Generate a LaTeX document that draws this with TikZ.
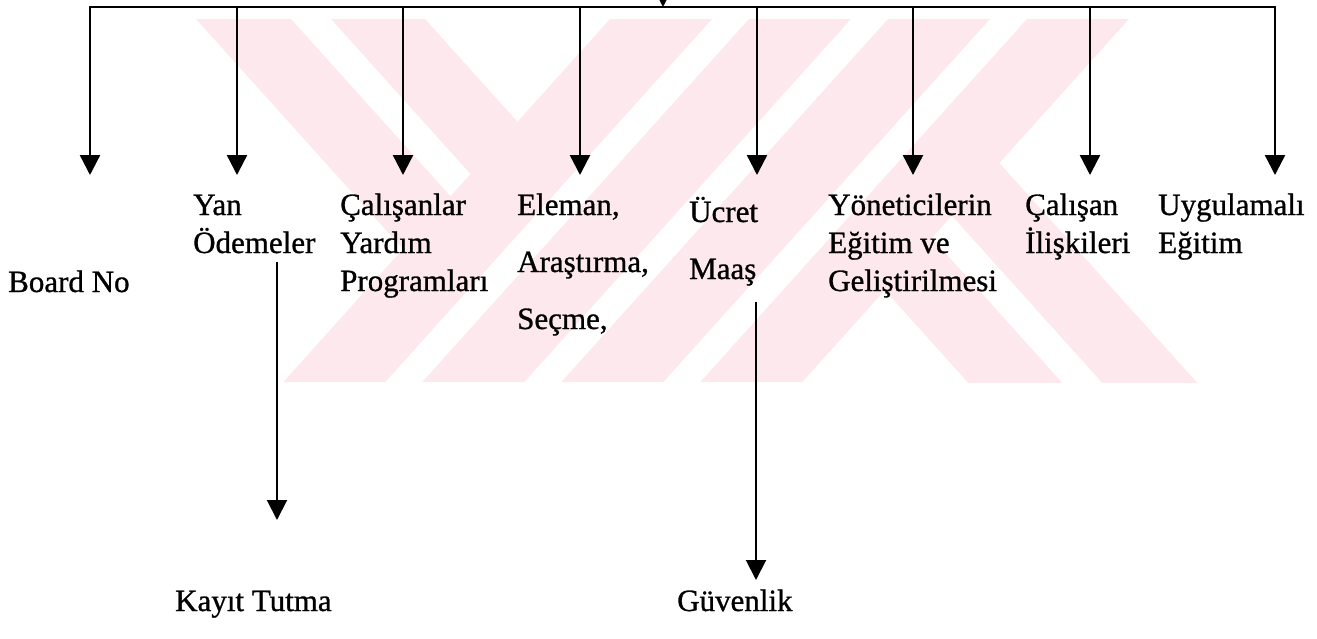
\documentclass[tikz,border=0pt]{standalone}
\usepackage{fontspec}
\setmainfont{Liberation Serif}
\newfontfamily\inkfont{Liberation Serif}[FakeBold=0.9]
\usetikzlibrary{arrows.meta}
\definecolor{wmpink}{RGB}{253,233,237}
\begin{document}
\begin{tikzpicture}[x=1pt,y=-1pt,
  % multi-line labels are anchored on the baseline of their last line
  lbl/.style={anchor=base west, inner sep=0pt, align=left, font=\inkfont\fontsize{31}{38}\selectfont},
  wide/.style={font=\inkfont\fontsize{31}{57}\selectfont},
  feed/.style={line width=2.4pt, -{Triangle[width=20pt,length=20pt]}},
  sub/.style={line width=2pt, -{Triangle[width=20pt,length=20pt]}}]
\useasboundingbox (0,0) rectangle (1317,638);

% background emblem: striped bands in pale pink
\begin{scope}
  \clip (0,19) rectangle (1317,382);
  % rising bands
  \foreach \a/\b in {610/712, 749/851, 888/990, 1027/1129}
    \fill[wmpink] (\a,19) -- (\b,19) -- (\b-326.7,382) -- (\a-326.7,382) -- cycle;
  % falling bands, upper left and (point-reflected) lower right
  \foreach \r in {0,180}{
    \begin{scope}[rotate around={\r:(701.2,206)}]
      \fill[wmpink] (196,19) -- (291,19) -- (450.5,196.2) -- (403,249) -- cycle;
      \fill[wmpink] (331,19) -- (425,19) -- (517.5,121.8) -- (470.5,174) -- cycle;
    \end{scope}
  }
\end{scope}

% labels
\node[lbl] (board) at (8,292) {Board No};
\node[lbl] (yan) at (193,253) {Yan\\Ödemeler};
\node[lbl] (calp) at (340,291) {Çalışanlar\\Yardım\\Programları};
\node[lbl,wide] (elem) at (517,329) {Eleman,\\Araştırma,\\Seçme,};
\node[lbl,wide] (ucret) at (689,279) {Ücret\\Maaş};
\node[lbl] (yon) at (828,291) {Yöneticilerin\\Eğitim ve\\Geliştirilmesi};
\node[lbl] (calr) at (1025,253) {Çalışan\\İlişkileri};
\node[lbl] (uyg) at (1158,253) {Uygulamalı\\Eğitim};
\node[lbl] (kayit) at (175,611) {Kayıt Tutma};
\node[lbl] (guv) at (677,611) {Güvenlik};

% distribution line and its branch points
\coordinate (parent) at (663,-40);
\coordinate (bj) at (663,7);
\coordinate (b1) at (90,7);    \coordinate (a1) at (90,175);
\coordinate (b2) at (237,7);   \coordinate (a2) at (237,175);
\coordinate (b3) at (403,7);   \coordinate (a3) at (403,175);
\coordinate (b4) at (580,7);   \coordinate (a4) at (580,175);
\coordinate (b5) at (757,7);   \coordinate (a5) at (757,175);
\coordinate (b6) at (913,7);   \coordinate (a6) at (913,175);
\coordinate (b7) at (1090,7);  \coordinate (a7) at (1090,175);
\coordinate (b8) at (1275,7);  \coordinate (a8) at (1275,175);

\draw[line width=2.4pt, line join=miter, {Triangle[width=20pt,length=20pt]}-{Triangle[width=20pt,length=20pt]}]
  (a1) -- (b1) -- (b8) -- (a8);
\draw[feed] (parent) -- (bj);
\draw[feed] (b2) -- (a2);
\draw[feed] (b3) -- (a3);
\draw[feed] (b4) -- (a4);
\draw[feed] (b5) -- (a5);
\draw[feed] (b6) -- (a6);
\draw[feed] (b7) -- (a7);

% second-level branches
\coordinate (k0) at (277,262);  \coordinate (k1) at (277,520);
\coordinate (g0) at (756,302);  \coordinate (g1) at (756,580);
\draw[sub] (k0) -- (k1);
\draw[sub] (g0) -- (g1);
\end{tikzpicture}
\end{document}
